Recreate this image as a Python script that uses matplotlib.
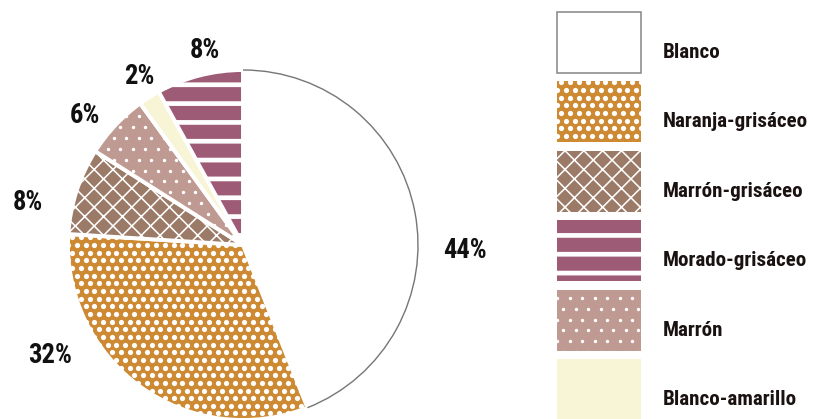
import matplotlib
matplotlib.use('Agg')
import matplotlib.pyplot as plt
from matplotlib.patches import Arc, Rectangle
import numpy as np

# color shares, in pie order (clockwise from 12 o'clock)
names = ['Blanco', 'Naranja-grisáceo', 'Marrón-grisáceo', 'Marrón',
         'Blanco-amarillo', 'Morado-grisáceo']
shares = [44, 32, 8, 6, 2, 8]
colors = ['#ffffff', '#cd8a33', '#9b7b68', '#bf9a92', '#f8f4d6', '#9e5b76']
# fill texture per slice: ('dots', step, diameter) or a hatch string
textures = [None, ('dots', 8.8, 5.2), 'xx', ('dots', 12.5, 3.4), None, '-']
hatch_lw = [0.5, 0.5, 1.0, 0.6, 0.5, 3.0]

# legend order
legend_order = ['Blanco', 'Naranja-grisáceo', 'Marrón-grisáceo',
                'Morado-grisáceo', 'Marrón', 'Blanco-amarillo']

# label placement: angle (deg, clockwise from top) and distance in radii
lbl_angle = [91.3, 240.3, 281.1, 309.4, 328.5, 348.9]
lbl_dist = [1.27, 1.27, 1.25, 1.17, 1.13, 1.13]

W, H, DPI = 813, 419, 113
cx, cy, R = 243, 174, 175

fnt = ['Roboto Condensed', 'Archivo Narrow', 'Barlow Semi Condensed', 'DejaVu Sans']


def dot_fill(ax, patch, step, dia):
    # staggered white dots, clipped to the patch outline
    bb = patch.get_path().transformed(patch.get_patch_transform()).get_extents()
    rows = np.arange(bb.y0 - step, bb.y1 + step, step * 0.87)
    xs, ys = [], []
    for j, y in enumerate(rows):
        xr = np.arange(bb.x0 - step, bb.x1 + step, step) + (step / 2) * (j % 2)
        xs.extend(xr)
        ys.extend([y] * len(xr))
    sc = ax.scatter(xs, ys, s=(dia * 72 / DPI) ** 2, c='white',
                    linewidths=0, zorder=patch.get_zorder() + 0.1)
    sc.set_clip_path(patch)


def apply_texture(ax, patch, tex, lw):
    if tex is None:
        return
    if isinstance(tex, tuple):
        dot_fill(ax, patch, tex[1], tex[2])
    else:
        patch.set_hatch(tex)
        patch.set_hatch_linewidth(lw)


fig = plt.figure(figsize=(W / DPI, H / DPI), dpi=DPI)
ax = fig.add_axes([0, 0, 1, 1])

wedges, _ = ax.pie(shares, colors=colors, startangle=90, counterclock=False,
                   center=(cx, cy), radius=R,
                   wedgeprops=dict(edgecolor='white', linewidth=2.5))
for w, tex, lw in zip(wedges, textures, hatch_lw):
    apply_texture(ax, w, tex, lw)

# grey outline on the white slice
t2 = 90
t1 = 90 - shares[0] / sum(shares) * 360
ax.add_patch(Arc((cx, cy), 2 * R, 2 * R, theta1=t1, theta2=t2,
                 color='#777777', lw=0.9, zorder=5))

for i, s in enumerate(shares):
    a = np.deg2rad(lbl_angle[i])
    x = cx + lbl_dist[i] * R * np.sin(a)
    y = cy + lbl_dist[i] * R * np.cos(a)
    ax.text(x, y, f'{s}%', ha='center', va='center', fontsize=17,
            fontweight='bold', family=fnt, color='#111111')

# legend swatches
lx, ltop, lw_, lh, pitch = 557, 407, 84, 61, 69.4
for i, name in enumerate(legend_order):
    k = names.index(name)
    top = ltop - i * pitch
    if name == 'Blanco':
        r = Rectangle((lx, top - lh), lw_, lh, facecolor='white',
                      edgecolor='#888888', lw=1.0)
    else:
        r = Rectangle((lx, top - lh), lw_, lh, facecolor=colors[k],
                      edgecolor='white', lw=0)
    ax.add_patch(r)
    apply_texture(ax, r, textures[k], hatch_lw[k])
    ax.text(663, top - lh + 15, name, ha='left', va='baseline',
            fontsize=13.4, fontweight='bold', family=fnt, color='#1a1210')

ax.set_xlim(0, W)
ax.set_ylim(0, H)
ax.set_aspect('equal')
ax.axis('off')

plt.savefig('out.png', dpi=DPI)
